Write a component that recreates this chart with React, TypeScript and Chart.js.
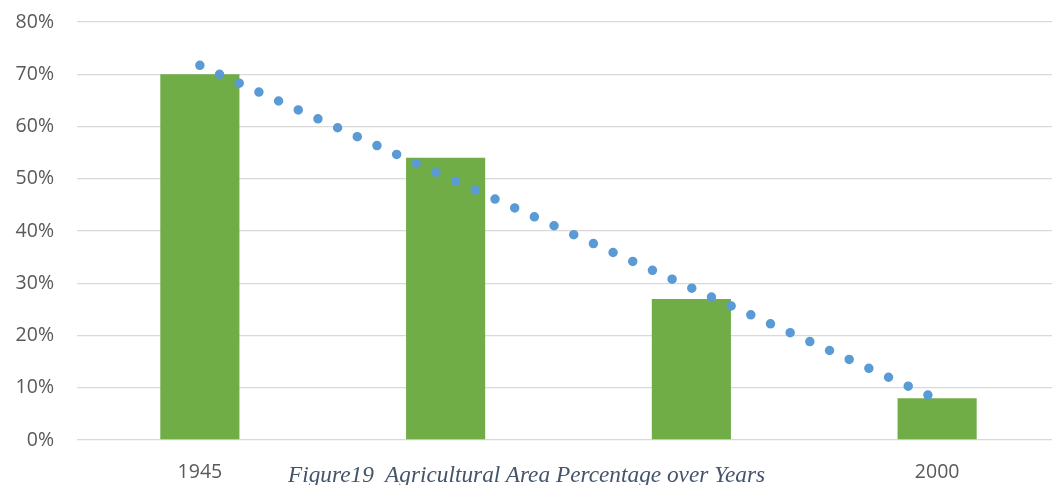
import React, { useEffect, useRef } from "react";
import { Chart, registerables } from "chart.js";

Chart.register(...registerables);

const categories = ["1945", "", "", "2000"];
const areaPercent = [70, 54, 27, 8];
const trendLine = [71.7, 50.4, 29.1, 7.8];
const yTicks = [0, 10, 20, 30, 40, 50, 60, 70, 80];
const caption = "Figure19  Agricultural Area Percentage over Years";

export default function App() {
  const ref = useRef<HTMLCanvasElement | null>(null);

  useEffect(() => {
    if (!ref.current) return;
    const chart = new Chart(ref.current, {
      type: "bar",
      data: {
        labels: categories,
        datasets: [
          {
            type: "line",
            data: trendLine,
            borderColor: "#5B9BD5",
            borderWidth: 9.5,
            borderDash: [0, 21.6],
            borderCapStyle: "round",
            pointRadius: 0,
            fill: false,
            order: 0,
          } as any,
          {
            type: "bar",
            data: areaPercent,
            backgroundColor: "#70AD47",
            categoryPercentage: 1,
            barPercentage: 0.322,
            order: 1,
          },
        ],
      },
      options: {
        animation: false,
        responsive: true,
        maintainAspectRatio: false,
        layout: { padding: { top: 22, right: 0, bottom: 0, left: 0 } },
        plugins: { legend: { display: false }, tooltip: { enabled: false } },
        scales: {
          x: {
            grid: { display: false, drawTicks: false },
            border: { display: false },
            ticks: {
              color: "#595959",
              font: { family: "'Open Sans'", size: 19.5 },
              padding: 21,
              autoSkip: false,
              maxRotation: 0,
            },
            afterFit: (s: any) => {
              s.height = 45;
            },
          },
          y: {
            min: 0,
            max: 80,
            afterBuildTicks: (s: any) => {
              s.ticks = yTicks.map((v) => ({ value: v }));
            },
            grid: { color: "#D9D9D9", lineWidth: 1.3, drawTicks: false },
            border: { display: false },
            ticks: {
              color: "#595959",
              font: { family: "'Open Sans'", size: 19.5 },
              padding: 23,
              callback: (v: any) => v + "%",
            },
            afterFit: (s: any) => {
              s.width = 77;
              s.paddingTop = 0;
              s.paddingBottom = 0;
            },
          },
        },
      },
    });
    return () => chart.destroy();
  }, []);

  return (
    <div
      style={{
        position: "absolute",
        left: 0,
        top: 0,
        width: 1052,
        height: 485,
        overflow: "hidden",
        background: "#fff",
      }}
    >
      <div style={{ position: "absolute", left: 0, top: 0, width: 1060, height: 485 }}>
        <canvas ref={ref} />
      </div>
      <div
        style={{
          position: "absolute",
          left: 288,
          top: 463,
          lineHeight: "22px",
          fontFamily: "'Liberation Serif', serif",
          fontStyle: "italic",
          fontSize: 23.3,
          color: "#44546A",
          whiteSpace: "pre",
        }}
      >
        {caption}
      </div>
    </div>
  );
}
